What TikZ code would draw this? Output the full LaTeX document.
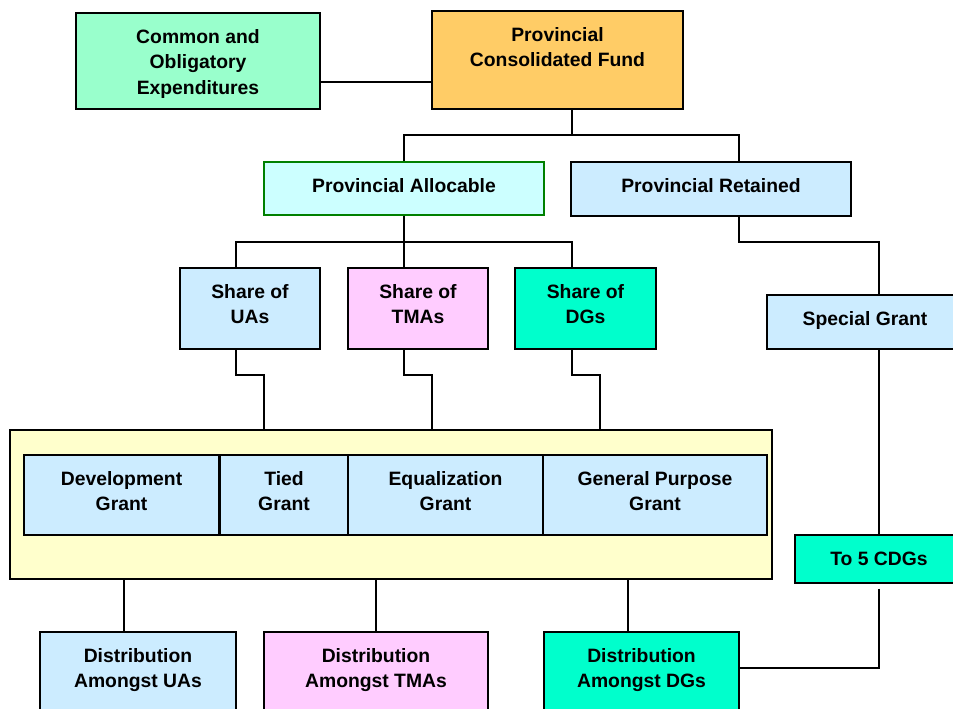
\documentclass[tikz,border=0pt]{standalone}
\usepackage{fontspec}
\setmainfont{Liberation Sans}
\definecolor{mintg}{HTML}{99FFCC}
\definecolor{fundorange}{HTML}{FFCC66}
\definecolor{allocyan}{HTML}{CCFFFF}
\definecolor{allocgreen}{HTML}{008000}
\definecolor{paleblue}{HTML}{CCECFF}
\definecolor{palepink}{HTML}{FFCCFF}
\definecolor{aquag}{HTML}{00FFCC}
\definecolor{poolyellow}{HTML}{FFFFCC}
% text sits at a fixed distance below the top edge of each box
\newcommand{\boxtext}[3]{\parbox[c][#2][t]{#1}{\centering\rule{0pt}{22.8pt}#3}}
\begin{document}
\begin{tikzpicture}[x=0.75pt,y=-0.75pt,
  box/.style={draw, line width=1.1pt, inner sep=0pt,
    font=\bfseries\fontsize{14.5}{19}\selectfont},
  link/.style={line width=0.8pt}]
 \useasboundingbox (0,0) rectangle (953,709);
 \clip (0,0) rectangle (953,709);
 % top row
 \node[box, fill=mintg] (coe) at (198,61) {\boxtext{183pt}{72pt}{Common and\\Obligatory\\Expenditures}};
 \node[box, fill=fundorange] (pcf) at (557.5,60) {\boxtext{188.25pt}{73.5pt}{Provincial\\Consolidated Fund}};
 \node[box, fill=allocyan, draw=allocgreen] (pal) at (404,188.5) {\boxtext{210pt}{39.75pt}{Provincial Allocable}};
 \node[box, fill=paleblue] (pre) at (711,189) {\boxtext{210pt}{40.5pt}{Provincial Retained}};
 % shares
 \node[box, fill=paleblue] (sua) at (250,308.5) {\boxtext{105pt}{60.75pt}{Share of\\UAs}};
 \node[box, fill=palepink] (stm) at (418,308.5) {\boxtext{105pt}{60.75pt}{Share of\\TMAs}};
 \node[box, fill=aquag] (sdg) at (585.5,308.5) {\boxtext{105.75pt}{60.75pt}{Share of\\DGs}};
 \node[box, fill=paleblue] (spg) at (865,322) {\boxtext{147pt}{40.5pt}{Special Grant}};
 \node[box, fill=aquag] (cdg) at (879,559) {\boxtext{126pt}{36pt}{To 5 CDGs}};
 % grant pool
 \node[box, fill=poolyellow, minimum width=571.5pt, minimum height=111.75pt] (pool) at (391,504.5) {};
 \node[box, fill=paleblue] (dev) at (121.5,495) {\boxtext{146.25pt}{60pt}{Development\\Grant}};
 \node[box, fill=paleblue] (tie) at (284,495) {\boxtext{96pt}{60pt}{Tied\\Grant}};
 \node[box, fill=paleblue] (equ) at (445.5,495) {\boxtext{146.25pt}{60pt}{Equalization\\Grant}};
 \node[box, fill=paleblue] (gpg) at (655,495) {\boxtext{168pt}{60pt}{General Purpose\\Grant}};
 % distribution
 \node[box, fill=paleblue] (dua) at (138,682) {\boxtext{147pt}{75pt}{Distribution\\Amongst UAs}};
 \node[box, fill=palepink] (dtm) at (376,682) {\boxtext{168pt}{75pt}{Distribution\\Amongst TMAs}};
 \node[box, fill=aquag] (ddg) at (641.5,682) {\boxtext{146.25pt}{75pt}{Distribution\\Amongst DGs}};
 % connectors
 \draw[link] (coe.east |- 0,82) -- (pcf.west |- 0,82);
 \draw[link] (pcf.south -| 572,0) -- (572,135);
 \draw[link] (pal.north) |- (572,135) -| (pre.north -| 739,0);
 \draw[link] (pal.south) -- (stm.north -| pal.south);
 \draw[link] (sua.north -| 236,0) |- (404,242) -| (sdg.north -| 572,0);
 \foreach \s/\x/\y in {sua/236/264, stm/404/432, sdg/572/600}
  \draw[link] (\s.south -| \x,0) -- (\x,375) -| (pool.north -| \y,0);
 \foreach \d/\x in {dua/124, dtm/376, ddg/628}
  \draw[link] (pool.south -| \x,0) -- (\d.north -| \x,0);
 \draw[link] (pre.south -| 739,0) -- (739,242) -| (spg.north -| 879,0);
 \draw[link] (spg.south -| cdg.north) -- (cdg.north);
 \draw[link] ([yshift=-3.75pt]cdg.south) |- (ddg.east |- 0,668);
\end{tikzpicture}
\end{document}
